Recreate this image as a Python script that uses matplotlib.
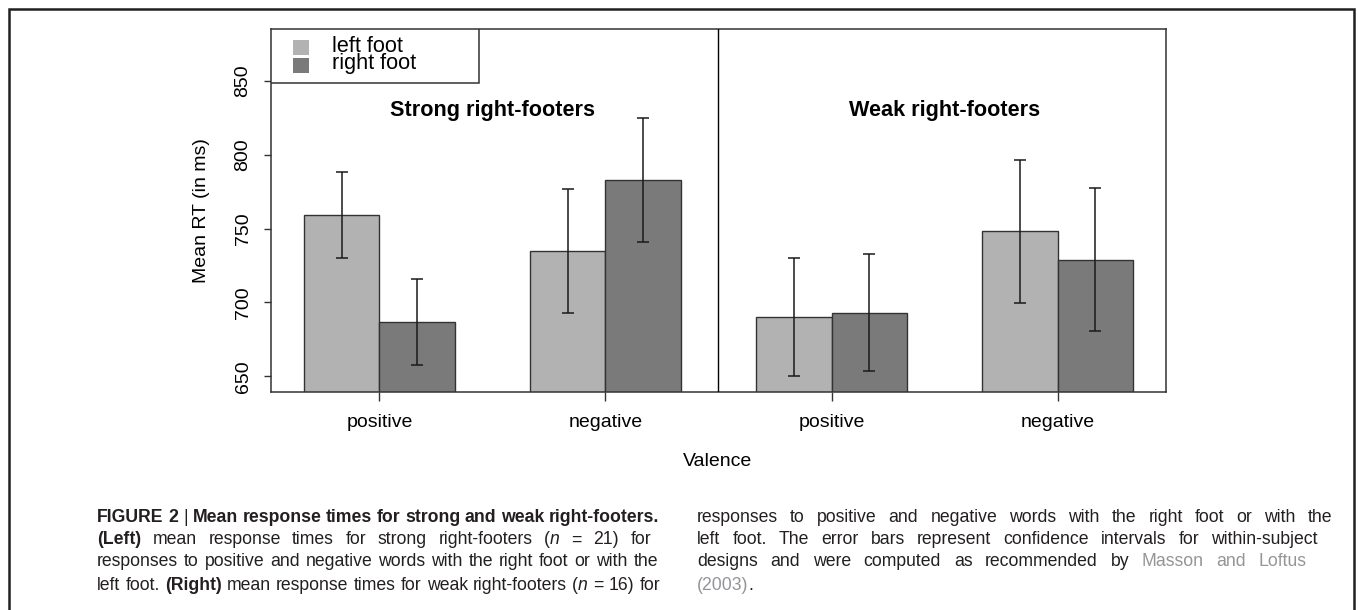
#######################
# Mean response times for strong and weak right-footers (bar chart + caption)
#######################

import matplotlib
matplotlib.use('Agg')
import matplotlib.pyplot as plt
from matplotlib.patches import Rectangle
import numpy as np

plt.rcParams['font.family'] = ['Liberation Sans', 'DejaVu Sans']

# Data
groups = ['Strong right-footers', 'Weak right-footers']
valence = ['positive', 'negative']
feet = ['left foot', 'right foot']

strong_left = [759, 735]
strong_right = [687, 783]
weak_left = [690, 748]
weak_right = [693, 729]

strong_left_ci = [29, 42]
strong_right_ci = [29, 42]
weak_left_ci = [40, 48.5]
weak_right_ci = [39.5, 48.5]

y_ticks = [650, 700, 750, 800, 850]

caption_left = [
    '*FIGURE^2*^|^*Mean response times for strong and weak right-footers.*',
    '*(Left)* mean response times for strong right-footers (_n_ = 21) for',
    'responses to positive and negative words with the right foot or with the',
    'left foot. *(Right)* mean response times for weak right-footers (_n_ = 16) for',
]
caption_right = [
    'responses to positive and negative words with the right foot or with the',
    'left foot. The error bars represent confidence intervals for within-subject',
    'designs and were computed as recommended by ~Masson and Loftus~',
    '~(2003)~.',
]

W, H = 1358, 610
LIGHT = '#b2b2b2'
DARK = '#7a7a7a'
EDGE = '#333333'
TXT = '#231f20'
LINK = '#939598'
CAP_FS = 12.7


#######################
# pixel helpers (origin top-left like the picture)
def fx(px):
    return px / W

def fy(py):
    return 1 - py / H


#######################
# split a caption line into tokens, each token a list of (text, style, gap) pieces
# * toggles bold, _ italic, ~ grey link colour, ^ is a fixed (non-stretching) space
def parse_line(line, space):
    tokens = []
    bold = italic = grey = False
    for word in line.split(' '):
        pieces = []
        cur = ''
        gap = 0
        for ch in word:
            if ch in '*_~^':
                if cur:
                    pieces.append((cur, (bold, italic, grey), gap))
                    cur = ''
                    gap = 0
                if ch == '*':
                    bold = not bold
                elif ch == '_':
                    italic = not italic
                elif ch == '~':
                    grey = not grey
                else:
                    gap = space
            else:
                cur += ch
        if cur:
            pieces.append((cur, (bold, italic, grey), gap))
        if pieces:
            tokens.append(pieces)
    return tokens


#######################
# draw one caption line, stretching the word gaps so the line ends at x1
def draw_caption_line(fig, renderer, line, x0, y, x1=None):
    space = 0.278 * CAP_FS * 100 / 72
    tokens = parse_line(line, space)
    arts = []
    widths = []
    for tok in tokens:
        row = []
        w = 0
        for text, (b, i, g), gap in tok:
            t = fig.text(0, fy(y), text, fontsize=CAP_FS, va='center', ha='left',
                         fontweight='bold' if b else 'normal',
                         fontstyle='italic' if i else 'normal',
                         color=LINK if g else TXT)
            tw = t.get_window_extent(renderer).width
            row.append((t, gap, tw))
            w += gap + tw
        arts.append(row)
        widths.append(w)
    gap_words = space
    if x1 is not None and len(tokens) > 1:
        gap_words = max(space * 0.8, (x1 - x0 - sum(widths)) / (len(tokens) - 1))
    x = x0
    for row in arts:
        for t, gap, tw in row:
            x += gap
            t.set_x(fx(x))
            x += tw
        x += gap_words


#######################
fig = plt.figure(figsize=(W / 100, H / 100), dpi=100)
ax = fig.add_axes([fx(271), fy(392), fx(1166) - fx(271), fy(29) - fy(392)])

# bar positions like R's barplot(beside=TRUE): one empty slot before each valence group
all_left = [strong_left, weak_left]
all_right = [strong_right, weak_right]
all_left_ci = [strong_left_ci, weak_left_ci]
all_right_ci = [strong_right_ci, weak_right_ci]
ngrp = len(valence) * 3

tick_pos = []
for g in range(len(groups)):
    base = 1 + g * ngrp
    for v in range(len(valence)):
        start = base + v * 3
        lx = start + 0.5
        rx = start + 1.5
        ax.bar(lx, all_left[g][v], width=1, color=LIGHT, edgecolor=EDGE, linewidth=1.0, zorder=2)
        ax.bar(rx, all_right[g][v], width=1, color=DARK, edgecolor=EDGE, linewidth=1.0, zorder=2)
        ax.errorbar([lx, rx], [all_left[g][v], all_right[g][v]],
                    yerr=[all_left_ci[g][v], all_right_ci[g][v]], fmt='none',
                    ecolor='#1a1a1a', elinewidth=1.1, capsize=4.3, capthick=1.1, zorder=3)
        tick_pos.append(start + 1)
    ax.text(base + (ngrp - 1) / 2.0, 830, groups[g], ha='center', va='center',
            fontsize=15.6, fontweight='bold', color='black')

# separator between the two panels
ax.axvline(1 + ngrp - 0.5, color='black', linewidth=1.0, zorder=4)

ax.set_xlim(0.56, 1 + 2 * ngrp - 1 + 0.44)
ax.set_ylim(639.4, 885)

ax.set_xticks(tick_pos)
ax.set_xticklabels(valence * len(groups))
ax.set_yticks(y_ticks)
ax.set_yticklabels([str(v) for v in y_ticks])
for lab in ax.get_yticklabels():
    lab.set_rotation(90)
    lab.set_va('center')
ax.tick_params(axis='y', length=5, width=1, color=EDGE, pad=9, labelsize=14)
ax.tick_params(axis='x', length=6.5, width=1, color=EDGE, pad=9.5, labelsize=14)
for sp in ax.spines.values():
    sp.set_color(EDGE)
    sp.set_linewidth(1.1)

fig.text(fx(201), fy(211), 'Mean RT (in ms)', rotation=90, ha='center', va='center', fontsize=14)
fig.text(fx(718), fy(462), 'Valence', ha='center', va='center', fontsize=14)

# legend drawn by hand (R style: tight rows, borderless squares)
ax.add_patch(Rectangle((0, 1 - (83 - 29) / 363.0), (479 - 271) / 895.0, (83 - 29) / 363.0,
                       transform=ax.transAxes, facecolor='white', edgecolor=EDGE,
                       linewidth=1.1, zorder=5))
for k, (name, col) in enumerate(zip(feet, [LIGHT, DARK])):
    yc = 1 - (47 + 18 * k - 29) / 363.0
    ax.add_patch(Rectangle(((293 - 271) / 895.0, yc - 7.5 / 363.0), 16 / 895.0, 15 / 363.0,
                           transform=ax.transAxes, facecolor=col, edgecolor='none', zorder=6))
    ax.text((332 - 271) / 895.0, yc + 1 / 363.0, name, transform=ax.transAxes,
            ha='left', va='center', fontsize=15.6, zorder=6)

# outer frame of the figure panel
fig.patches.append(Rectangle((fx(8.5), -0.1), fx(1354) - fx(8.5), fy(8.5) + 0.1,
                             transform=fig.transFigure, fill=False,
                             edgecolor=TXT, linewidth=1.8))

# caption, justified in two columns
renderer = fig.canvas.get_renderer()
left_ends = [659, 651, 658, 660]
right_ends = [1332, 1318, 1307, None]
line_y = [517, 540, 562, 585]
for k in range(4):
    draw_caption_line(fig, renderer, caption_left[k], 97, line_y[k], left_ends[k])
    draw_caption_line(fig, renderer, caption_right[k], 697, line_y[k], right_ends[k])

fig.savefig('out.png', dpi=100)
